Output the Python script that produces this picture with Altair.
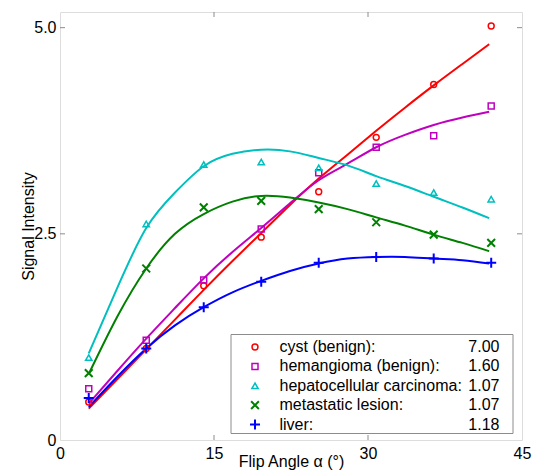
import altair as alt
import pandas as pd

# ---- data ----
angles = [2.8, 8.4, 14.0, 19.6, 25.2, 30.8, 36.4, 42.0]
cyst = [0.46, 1.11, 1.87, 2.46, 3.01, 3.67, 4.31, 5.02]
hemangioma = [0.62, 1.21, 1.94, 2.56, 3.24, 3.55, 3.69, 4.05]
hcc = [1.00, 2.62, 3.34, 3.37, 3.30, 3.11, 3.00, 2.92]
metastatic = [0.81, 2.08, 2.82, 2.90, 2.80, 2.64, 2.49, 2.39]
liver = [0.51, 1.11, 1.61, 1.92, 2.15, 2.22, 2.20, 2.15]

fit_angles = [2.8, 5.6, 8.4, 11.2, 14.0, 16.8, 19.6, 22.4, 25.2, 28.0, 30.8, 33.6, 36.4, 39.2, 41.8]
cyst_fit = [0.38, 0.74, 1.10, 1.46, 1.82, 2.17, 2.51, 2.85, 3.17, 3.46, 3.75, 4.03, 4.30, 4.56, 4.80]
hem_fit = [0.44, 0.84, 1.23, 1.60, 1.96, 2.28, 2.57, 2.87, 3.15, 3.35, 3.55, 3.70, 3.82, 3.91, 3.98]
hcc_fit = [1.05, 1.85, 2.57, 3.00, 3.32, 3.47, 3.52, 3.50, 3.42, 3.33, 3.20, 3.08, 2.95, 2.82, 2.69]
met_fit = [0.80, 1.50, 2.08, 2.50, 2.74, 2.89, 2.96, 2.94, 2.88, 2.80, 2.70, 2.60, 2.49, 2.39, 2.29]
liver_fit = [0.40, 0.77, 1.11, 1.39, 1.61, 1.79, 1.93, 2.05, 2.14, 2.20, 2.22, 2.22, 2.20, 2.18, 2.14]

names = ["cyst (benign):", "hemangioma (benign):", "hepatocellular carcinoma:",
         "metastatic lesion:", "liver:"]
ratios = ["7.00", "1.60", "1.07", "1.07", "1.18"]

x_ticks = [0, 15, 30, 45]
y_ticks = [0, 2.5, 5.0]
inner_x_ticks = [15, 30]
inner_y_ticks = [2.5, 5.0]

# ---- styles ----
colors = ["#FF0000", "#BF00BF", "#00BFBF", "#008000", "#0000FF"]
X_PATH = "M-1,-1L1,1M-1,1L1,-1"
PLUS_PATH = "M-1,0L1,0M0,-1L0,1"
shapes = ["circle", "square", "triangle-up", X_PATH, PLUS_PATH]
sizes = [35, 36, 40, 60, 100]
mstroke = [1.5, 1.5, 1.5, 2, 2]

W, H = 462, 428
FONT = "Liberation Sans"
GREY = "#8c8c8c"

xs = alt.Scale(domain=[0, 45], nice=False, zero=False)
ys = alt.Scale(domain=[0, 5.19], nice=False, zero=False)

x_axis = alt.Axis(
    values=x_ticks, grid=False, domain=False, ticks=False, tickSize=0,
    labelPadding=5, labelFontSize=16, labelFont=FONT, labelColor="black",
    titleFont=FONT, titleFontSize=16, titleFontWeight="normal", titleColor="black",
    titleBaseline="alphabetic", titleY=26, labelFlush=False)
y_axis = alt.Axis(
    values=y_ticks, grid=False, domain=False, ticks=False, tickSize=0,
    labelPadding=4, labelFontSize=16, labelFont=FONT, labelColor="black",
    titleFont=FONT, titleFontSize=16, titleFontWeight="normal", titleColor="black",
    titleBaseline="alphabetic", titleX=-27, labelFlush=False,
    labelExpr="datum.value == 0 ? '0' : format(datum.value, '.1f')")

X_ENC = alt.X("angle:Q", scale=xs, axis=x_axis, title="Flip Angle α (°)")
Y_ENC = alt.Y("signal:Q", scale=ys, axis=y_axis, title="Signal  Intensity")

series_pts = [cyst, hemangioma, hcc, metastatic, liver]
series_fit = [cyst_fit, hem_fit, hcc_fit, met_fit, liver_fit]

layers = []

for i in range(5):
    fdf = pd.DataFrame({"angle": fit_angles, "signal": series_fit[i]})
    layers.append(alt.Chart(fdf).mark_line(
        color=colors[i], strokeWidth=2, interpolate="natural").encode(x=X_ENC, y=Y_ENC))

for i in range(5):
    pdf = pd.DataFrame({"angle": angles, "signal": series_pts[i]})
    layers.append(alt.Chart(pdf).mark_point(
        shape=shapes[i], size=sizes[i], color=colors[i], filled=False,
        strokeWidth=mstroke[i], opacity=1).encode(x=X_ENC, y=Y_ENC))

# inward ticks on all four sides
tx = pd.DataFrame({"angle": inner_x_ticks})
ty = pd.DataFrame({"signal": inner_y_ticks})
TL = 5
layers.append(alt.Chart(tx).mark_rule(color=GREY, strokeWidth=1).encode(
    x=X_ENC, y=alt.value(H), y2=alt.value(H - TL)))
layers.append(alt.Chart(tx).mark_rule(color=GREY, strokeWidth=1).encode(
    x=X_ENC, y=alt.value(0), y2=alt.value(TL)))
layers.append(alt.Chart(ty).mark_rule(color=GREY, strokeWidth=1).encode(
    y=Y_ENC, x=alt.value(0), x2=alt.value(TL)))
layers.append(alt.Chart(ty).mark_rule(color=GREY, strokeWidth=1).encode(
    y=Y_ENC, x=alt.value(W - TL), x2=alt.value(W)))

# legend box
one = pd.DataFrame({"k": [0]})
box_l, box_r, box_t, box_b = 171, 453, 322.5, 421.5
layers.append(alt.Chart(one).mark_rect(fill="white", stroke=GREY, strokeWidth=1).encode(
    x=alt.value(box_l), x2=alt.value(box_r), y=alt.value(box_t), y2=alt.value(box_b)))

row0, row_step = 335.0, 19.4
sym_x, lab_x, val_x = 195, 219.5, 439.5
for i in range(5):
    ry = row0 + row_step * i
    layers.append(alt.Chart(one).mark_point(
        shape=shapes[i], size=sizes[i], color=colors[i], filled=False,
        strokeWidth=mstroke[i], opacity=1).encode(
        x=alt.value(sym_x), y=alt.value(ry)))
    ldf = pd.DataFrame({"label": [names[i]], "ratio": [ratios[i]]})
    layers.append(alt.Chart(ldf).mark_text(
        align="left", baseline="middle", font=FONT, fontSize=16, color="black").encode(
        x=alt.value(lab_x), y=alt.value(ry), text="label:N"))
    layers.append(alt.Chart(ldf).mark_text(
        align="right", baseline="middle", font=FONT, fontSize=16, color="black").encode(
        x=alt.value(val_x), y=alt.value(ry), text="ratio:N"))

chart = alt.layer(*layers).properties(
    width=W, height=H,
    autosize=alt.AutoSizeParams(type="none"),
    padding={"left": 52, "top": 4, "right": 15, "bottom": 30},
).configure_view(
    stroke=GREY, strokeWidth=1
).configure(background="white")

chart.save("out.html", embed_options={"renderer": "svg", "actions": False})
